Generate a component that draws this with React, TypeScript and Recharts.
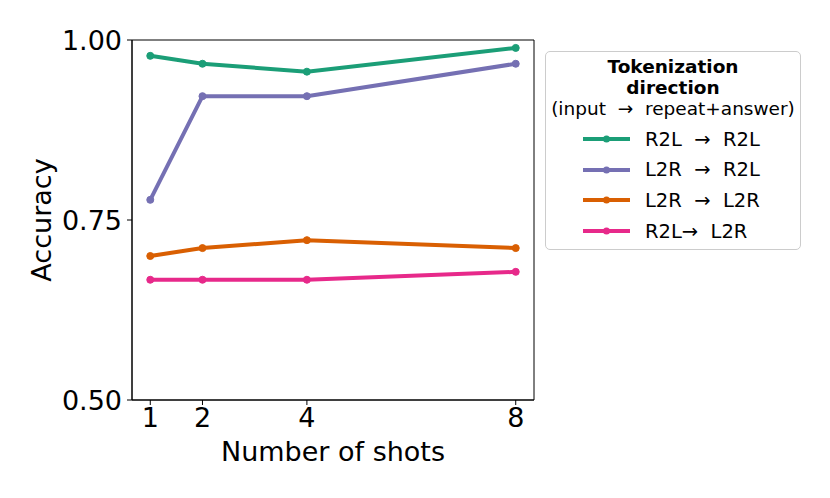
import React from 'react';
import { LineChart, Line, XAxis, YAxis, ReferenceArea } from 'recharts';

const shots = [1, 2, 4, 8];
const r2lToR2l = [0.978, 0.967, 0.956, 0.989];
const l2rToR2l = [0.778, 0.922, 0.922, 0.967];
const l2rToL2r = [0.7, 0.711, 0.722, 0.711];
const r2lToL2r = [0.667, 0.667, 0.667, 0.678];
const yTicks = [0.5, 0.75, 1.0];

const seriesList = [
  { key: 'r2lR2l', name: 'R2L  \u2192  R2L', color: '#1b9e77', values: r2lToR2l },
  { key: 'l2rR2l', name: 'L2R  \u2192  R2L', color: '#7570b3', values: l2rToR2l },
  { key: 'l2rL2r', name: 'L2R  \u2192  L2R', color: '#d95f02', values: l2rToL2r },
  { key: 'r2lL2r', name: 'R2L\u2192  L2R', color: '#e7298a', values: r2lToL2r },
];

const data = shots.map((s, i) => {
  const row: Record<string, number> = { shots: s };
  seriesList.forEach((ser) => {
    row[ser.key] = ser.values[i];
  });
  return row;
});

const font = '"DejaVu Sans", sans-serif';
const tickStyle = { fontSize: 27, fill: '#000', fontFamily: font };

const App: React.FC = () => {
  return (
    <div style={{ position: 'relative', width: 830, height: 498, fontFamily: font }}>
      <style>{`body { margin: 0; }`}</style>
      <LineChart
        width={830}
        height={498}
        data={data}
        margin={{ top: 40, right: 296, left: 0, bottom: 0 }}
      >
        <XAxis
          dataKey="shots"
          type="number"
          domain={[0.65, 8.35]}
          ticks={shots}
          height={98}
          tickSize={5}
          tickMargin={3}
          stroke="#000"
          tick={tickStyle}
          label={{
            value: 'Number of shots',
            position: 'insideBottom',
            offset: 37,
            style: { fontSize: 27, fill: '#000', fontFamily: font },
          }}
        />
        <YAxis
          type="number"
          domain={[0.5, 1.0]}
          ticks={yTicks}
          width={132}
          tickSize={5}
          tickMargin={5}
          stroke="#000"
          tick={tickStyle}
          tickFormatter={(v) => Number(v).toFixed(2)}
          label={{
            value: 'Accuracy',
            angle: -90,
            position: 'insideLeft',
            offset: 41,
            style: { fontSize: 27, fill: '#000', fontFamily: font, textAnchor: 'middle' },
          }}
        />
        <ReferenceArea x1={0.65} x2={8.35} y1={0.5} y2={1.0} fill="none" stroke="#000" strokeWidth={1} />
        {seriesList.map((ser) => (
          <Line
            key={ser.key}
            dataKey={ser.key}
            name={ser.name}
            stroke={ser.color}
            strokeWidth={4}
            dot={{ r: 3.5, fill: ser.color, stroke: ser.color, strokeWidth: 1 }}
            activeDot={false}
            isAnimationActive={false}
          />
        ))}
      </LineChart>
      <div
        style={{
          position: 'absolute',
          left: 545,
          top: 51,
          width: 254,
          height: 197,
          border: '1px solid #cccccc',
          borderRadius: 5,
          background: '#fff',
        }}
      >
        <div
          style={{
            position: 'absolute',
            top: 4,
            left: 0,
            width: '100%',
            textAlign: 'center',
            fontSize: 18.5,
            lineHeight: '21px',
          }}
        >
          <div style={{ fontWeight: 'bold' }}>Tokenization</div>
          <div style={{ fontWeight: 'bold' }}>direction</div>
          <div style={{ whiteSpace: 'pre' }}>(input  {'\u2192'}  repeat+answer)</div>
        </div>
        {seriesList.map((ser, i) => (
          <div
            key={ser.key}
            style={{
              position: 'absolute',
              left: 37,
              top: 75 + i * 30.7,
              height: 24,
              display: 'flex',
              alignItems: 'center',
            }}
          >
            <svg width={47} height={12}>
              <line x1={0} y1={6} x2={47} y2={6} stroke={ser.color} strokeWidth={4} />
              <circle cx={23.5} cy={6} r={3.5} fill={ser.color} />
            </svg>
            <span style={{ marginLeft: 15, fontSize: 19.5, whiteSpace: 'pre' }}>{ser.name}</span>
          </div>
        ))}
      </div>
    </div>
  );
};

export default App;
